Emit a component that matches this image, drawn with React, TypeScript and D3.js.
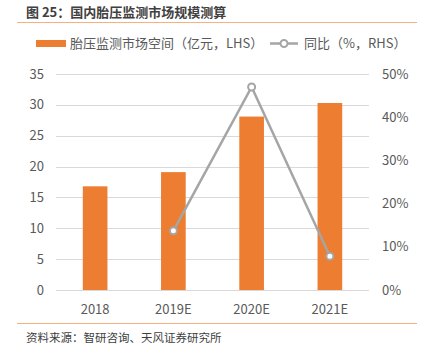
import React, { useEffect, useRef } from "react";
import * as d3 from "d3";

const categories = ["2018", "2019E", "2020E", "2021E"];
const marketSize = [16.8, 19.1, 28.1, 30.3];
const growth = [null, 13.7, 47.0, 7.8];
const leftTicks = [0, 5, 10, 15, 20, 25, 30, 35];
const rightTicks = [0, 10, 20, 30, 40, 50];

const ORANGE = "#ED7D31";
const GRAY = "#A5A5A5";
const FONT = "'Noto Sans CJK SC', 'Noto Sans', sans-serif";

const App = () => {
  const svgRef = useRef<SVGSVGElement>(null);

  useEffect(() => {
    const svg = d3.select(svgRef.current);
    svg.selectAll("*").remove();

    const width = 428;
    const height = 353;
    const margin = { top: 74, right: 59, bottom: 63, left: 56 };

    const x = d3
      .scaleBand()
      .domain(categories)
      .range([margin.left, width - margin.right]);

    const y = d3
      .scaleLinear()
      .domain([0, 35])
      .range([height - margin.bottom, margin.top]);

    const y2 = d3
      .scaleLinear()
      .domain([0, 50])
      .range([height - margin.bottom, margin.top]);

    // title
    svg
      .append("text")
      .attr("x", 26)
      .attr("y", 17)
      .attr("font-size", 13)
      .attr("font-weight", "bold")
      .attr("fill", "#404040")
      .text("图 25：国内胎压监测市场规模测算");

    svg
      .append("line")
      .attr("x1", 17)
      .attr("x2", 417)
      .attr("y1", 22.5)
      .attr("y2", 22.5)
      .attr("stroke", "#F4B183")
      .attr("stroke-width", 1);

    // gridlines
    svg
      .append("g")
      .selectAll("line")
      .data(leftTicks)
      .enter()
      .append("line")
      .attr("x1", margin.left)
      .attr("x2", width - margin.right)
      .attr("y1", (d) => Math.round(y(d)) + 0.5)
      .attr("y2", (d) => Math.round(y(d)) + 0.5)
      .attr("stroke", "#D9D9D9")
      .attr("stroke-width", 1);

    // left axis labels
    svg
      .append("g")
      .selectAll("text")
      .data(leftTicks)
      .enter()
      .append("text")
      .attr("x", 44)
      .attr("y", (d) => y(d))
      .attr("dy", "0.35em")
      .attr("text-anchor", "end")
      .attr("font-size", 13)
      .attr("fill", "#595959")
      .text((d) => d);

    // right axis labels
    svg
      .append("g")
      .selectAll("text")
      .data(rightTicks)
      .enter()
      .append("text")
      .attr("x", 382)
      .attr("y", (d) => y2(d))
      .attr("dy", "0.35em")
      .attr("text-anchor", "start")
      .attr("font-size", 13)
      .attr("fill", "#595959")
      .text((d) => d + "%");

    // bars
    const barW = x.bandwidth() * 0.315;
    svg
      .append("g")
      .selectAll("rect")
      .data(categories)
      .enter()
      .append("rect")
      .attr("x", (d) => x(d)! + x.bandwidth() / 2 - barW / 2)
      .attr("y", (d, i) => y(marketSize[i]))
      .attr("width", barW)
      .attr("height", (d, i) => y(0) - y(marketSize[i]))
      .attr("fill", ORANGE);

    // x labels
    svg
      .append("g")
      .selectAll("text")
      .data(categories)
      .enter()
      .append("text")
      .attr("x", (d) => x(d)! + x.bandwidth() / 2)
      .attr("y", 314)
      .attr("text-anchor", "middle")
      .attr("font-size", 13)
      .attr("fill", "#595959")
      .text((d) => d);

    // growth line
    const pts = categories
      .map((c, i) => ({ c, v: growth[i] }))
      .filter((d) => d.v !== null) as { c: string; v: number }[];

    const line = d3
      .line<{ c: string; v: number }>()
      .x((d) => x(d.c)! + x.bandwidth() / 2)
      .y((d) => y2(d.v));

    svg
      .append("path")
      .datum(pts)
      .attr("d", line)
      .attr("fill", "none")
      .attr("stroke", GRAY)
      .attr("stroke-width", 2.5);

    svg
      .append("g")
      .selectAll("circle")
      .data(pts)
      .enter()
      .append("circle")
      .attr("cx", (d) => x(d.c)! + x.bandwidth() / 2)
      .attr("cy", (d) => y2(d.v))
      .attr("r", 3.5)
      .attr("fill", "#fff")
      .attr("stroke", GRAY)
      .attr("stroke-width", 2);

    // legend
    const legend = svg.append("g");
    legend
      .append("rect")
      .attr("x", 36)
      .attr("y", 40)
      .attr("width", 30)
      .attr("height", 7)
      .attr("fill", ORANGE);
    legend
      .append("text")
      .attr("x", 70)
      .attr("y", 48)
      .attr("font-size", 13)
      .attr("fill", "#595959")
      .text("胎压监测市场空间（亿元，LHS）");

    legend
      .append("line")
      .attr("x1", 270)
      .attr("x2", 298)
      .attr("y1", 43.5)
      .attr("y2", 43.5)
      .attr("stroke", GRAY)
      .attr("stroke-width", 2.5);
    legend
      .append("circle")
      .attr("cx", 284)
      .attr("cy", 43.5)
      .attr("r", 3.5)
      .attr("fill", "#fff")
      .attr("stroke", GRAY)
      .attr("stroke-width", 2);
    legend
      .append("text")
      .attr("x", 304)
      .attr("y", 48)
      .attr("font-size", 13)
      .attr("fill", "#595959")
      .text("同比（%，RHS）");

    // footer
    svg
      .append("line")
      .attr("x1", 17)
      .attr("x2", 417)
      .attr("y1", 323.5)
      .attr("y2", 323.5)
      .attr("stroke", "#F4B183")
      .attr("stroke-width", 1);

    svg
      .append("text")
      .attr("x", 26)
      .attr("y", 342)
      .attr("font-size", 11.5)
      .attr("fill", "#404040")
      .text("资料来源：智研咨询、天风证券研究所");
  }, []);

  return (
    <svg
      ref={svgRef}
      width={428}
      height={353}
      style={{ position: "absolute", left: 0, top: 0, background: "#fff", fontFamily: FONT }}
    />
  );
};

export default App;
